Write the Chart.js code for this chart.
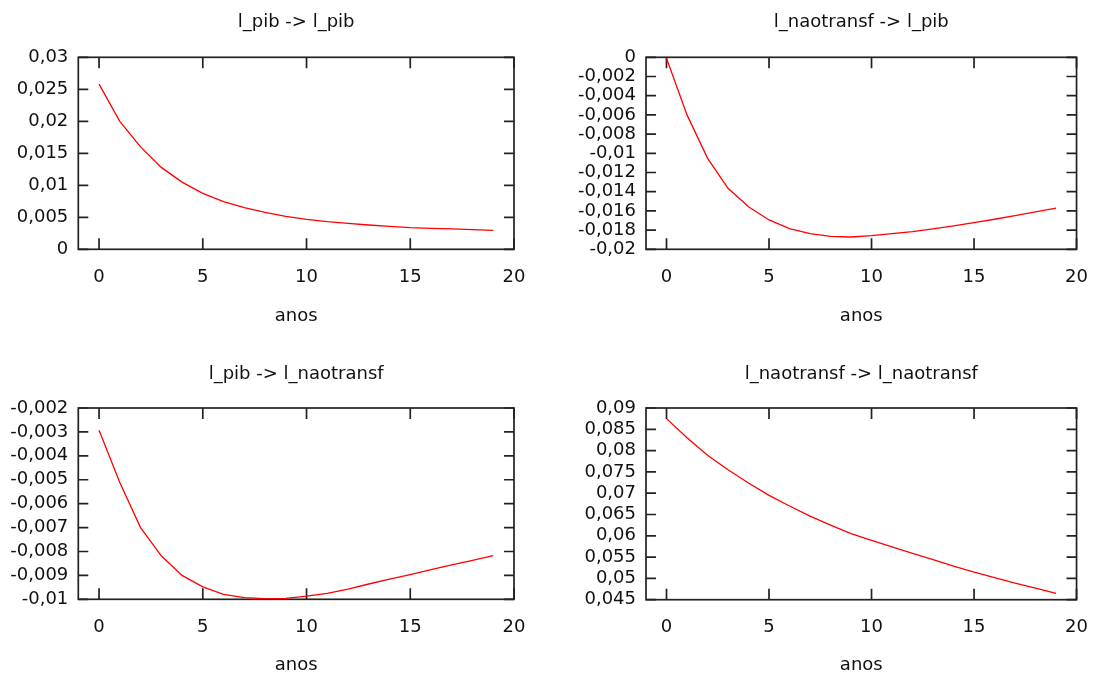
<!DOCTYPE html>
<html><head><meta charset="utf-8">
<script src="https://cdn.jsdelivr.net/npm/chart.js@4.4.0/dist/chart.umd.min.js"></script>
<style>
html,body{margin:0;padding:0;background:#fff;}
#wrap{position:relative;width:1105px;height:676px;overflow:hidden;background:#fff;}
canvas{position:absolute;display:block;}
</style></head><body>
<div id="wrap">
<canvas id="c1" width="552" height="338" style="left:0;top:0"></canvas>
<canvas id="c2" width="553" height="338" style="left:552px;top:0"></canvas>
<canvas id="c3" width="552" height="338" style="left:0;top:338px"></canvas>
<canvas id="c4" width="553" height="338" style="left:552px;top:338px"></canvas>
</div>
<script>
// ---- data ----
const years = [0,1,2,3,4,5,6,7,8,9,10,11,12,13,14,15,16,17,18,19];
const titles = ['l_pib -> l_pib', 'l_naotransf -> l_pib', 'l_pib -> l_naotransf', 'l_naotransf -> l_naotransf'];
const xTitle = 'anos';
const pibToPib = [0.0258,0.0200,0.0160,0.0128,0.0105,0.00875,0.00745,0.00651,0.00578,0.00515,0.00469,0.00432,0.00406,0.0038,0.00359,0.00339,0.00328,0.00318,0.00307,0.00297];
const naoToPib = [-0.0001,-0.0060,-0.0105,-0.01365,-0.01556,-0.01694,-0.01785,-0.01837,-0.01865,-0.01872,-0.01858,-0.01837,-0.01816,-0.01788,-0.01757,-0.01722,-0.01687,-0.01649,-0.01611,-0.0157];
const pibToNao = [-0.00293,-0.00512,-0.00700,-0.00818,-0.0090,-0.00948,-0.00979,-0.00993,-0.00997,-0.00996,-0.00987,-0.00975,-0.00957,-0.00936,-0.00916,-0.00897,-0.00876,-0.00856,-0.00837,-0.00817];
const naoToNao = [0.0875,0.0830,0.0789,0.0755,0.0724,0.0695,0.0670,0.0646,0.0625,0.0605,0.0589,0.0574,0.0559,0.0544,0.0529,0.0515,0.0502,0.0489,0.0477,0.0465];

const xTicks = [0,5,10,15,20];
const xTickLabels = ['0','5','10','15','20'];
const yTicks1 = [0,0.005,0.01,0.015,0.02,0.025,0.03];
const yLabels1 = ['0','0,005','0,01','0,015','0,02','0,025','0,03'];
const yTicks2 = [-0.02,-0.018,-0.016,-0.014,-0.012,-0.01,-0.008,-0.006,-0.004,-0.002,0];
const yLabels2 = ['-0,02','-0,018','-0,016','-0,014','-0,012','-0,01','-0,008','-0,006','-0,004','-0,002','0'];
const yTicks3 = [-0.01,-0.009,-0.008,-0.007,-0.006,-0.005,-0.004,-0.003,-0.002];
const yLabels3 = ['-0,01','-0,009','-0,008','-0,007','-0,006','-0,005','-0,004','-0,003','-0,002'];
const yTicks4 = [0.045,0.05,0.055,0.06,0.065,0.07,0.075,0.08,0.085,0.09];
const yLabels4 = ['0,045','0,05','0,055','0,06','0,065','0,07','0,075','0,08','0,085','0,09'];

// ---- style ----
Chart.defaults.font.family = "'DejaVu Sans', Verdana, sans-serif";
Chart.defaults.font.size = 18;
Chart.defaults.color = '#111';

const framePlugin = {
  id: 'frame',
  beforeDatasetsDraw(chart) {
    const {ctx, chartArea: a, scales: {x, y}} = chart;
    ctx.save();
    ctx.strokeStyle = '#222';
    ctx.lineWidth = 1.7;
    ctx.strokeRect(a.left, a.top, a.right - a.left, a.bottom - a.top);
    ctx.beginPath();
    x.ticks.forEach(t => {
      const px = x.getPixelForValue(t.value);
      ctx.moveTo(px, a.top); ctx.lineTo(px, a.top + 11);
      ctx.moveTo(px, a.bottom); ctx.lineTo(px, a.bottom - 11);
    });
    y.ticks.forEach(t => {
      const py = y.getPixelForValue(t.value);
      ctx.moveTo(a.left, py); ctx.lineTo(a.left + 10, py);
      ctx.moveTo(a.right, py); ctx.lineTo(a.right - 10, py);
    });
    ctx.stroke();
    ctx.restore();
  }
};

function makePanel(id, title, values, yT, yL, g) {
  new Chart(document.getElementById(id), {
    type: 'line',
    data: {
      datasets: [{
        data: years.map((yr, i) => ({x: yr, y: values[i]})),
        borderColor: '#ff0000',
        borderWidth: 1.3,
        pointRadius: 0,
        tension: 0,
        fill: false
      }]
    },
    options: {
      responsive: false,
      animation: false,
      devicePixelRatio: 1,
      layout: {padding: {left: 0, right: g.right, top: 0, bottom: 0}},
      plugins: {
        legend: {display: false},
        tooltip: {enabled: false},
        title: {
          display: true, text: title, fullSize: false,
          font: {size: 18, weight: 'normal', lineHeight: 1.2},
          color: '#111',
          padding: {top: g.tTop, bottom: g.tBottom}
        }
      },
      scales: {
        x: {
          type: 'linear', min: -1, max: 20,
          grid: {display: false, drawTicks: false, tickLength: 0}, border: {display: false},
          afterBuildTicks: s => { s.ticks = xTicks.map(v => ({value: v})); },
          ticks: {autoSkip: false, maxRotation: 0, padding: 17, font: {size: 18, lineHeight: 1.2},
                  callback: (v, i) => xTickLabels[i]},
          title: {display: true, text: xTitle, font: {size: 18, lineHeight: 1.2}, padding: {top: 0, bottom: g.xtBottom}},
          afterFit: s => { s.height = g.xh; }
        },
        y: {
          type: 'linear', min: yT[0], max: yT[yT.length - 1],
          grid: {display: false, drawTicks: false, tickLength: 0}, border: {display: false},
          afterBuildTicks: s => { s.ticks = yT.map(v => ({value: v})); },
          ticks: {autoSkip: false, padding: 10, font: {size: 18, lineHeight: 1.2},
                  callback: (v, i) => yL[i]},
          afterFit: s => { s.width = g.yw; }
        }
      }
    },
    plugins: [framePlugin]
  });
}

makePanel('c1', titles[0], pibToPib, yTicks1, yLabels1, {right: 38, yw: 78.3, xh: 88.7, tTop: 11.2, tBottom: 24.5, xtBottom: 11});
makePanel('c2', titles[1], naoToPib, yTicks2, yLabels2, {right: 25.3, yw: 94, xh: 88.7, tTop: 11.2, tBottom: 24.5, xtBottom: 11});
makePanel('c3', titles[2], pibToNao, yTicks3, yLabels3, {right: 38, yw: 78.3, xh: 76.7, tTop: 25.2, tBottom: 23.2, xtBottom: 0});
makePanel('c4', titles[3], naoToNao, yTicks4, yLabels4, {right: 25.3, yw: 94, xh: 76.3, tTop: 25.2, tBottom: 23.2, xtBottom: 0});
</script>
</body></html>
